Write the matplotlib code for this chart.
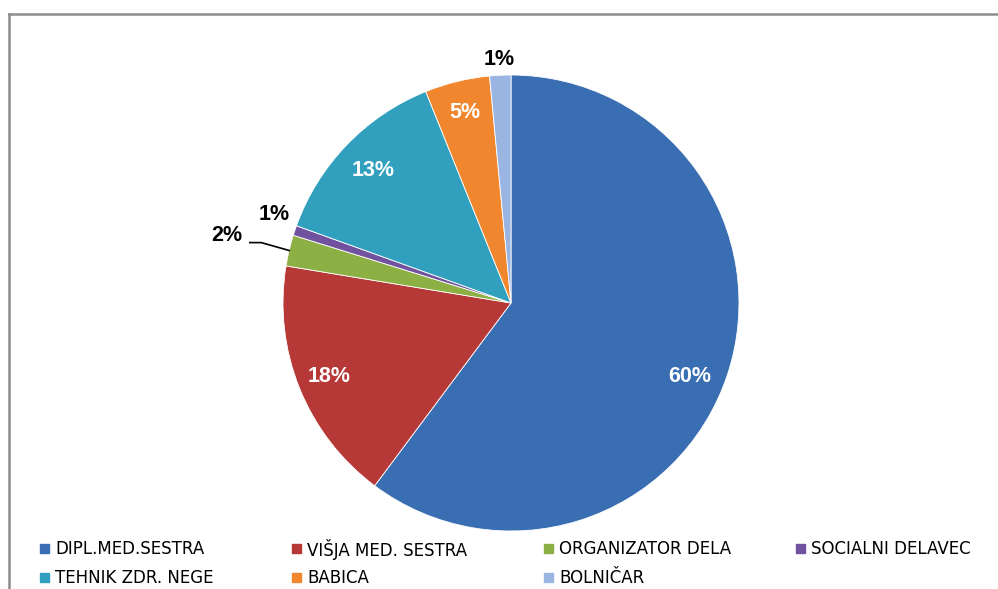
import numpy as np
import matplotlib.pyplot as plt
from matplotlib.lines import Line2D
from matplotlib.patches import Rectangle

# Category data (share of staff, %)
categories = ['DIPL.MED.SESTRA', 'VIŠJA MED. SESTRA', 'ORGANIZATOR DELA',
              'SOCIALNI DELAVEC', 'TEHNIK ZDR. NEGE', 'BABICA', 'BOLNIČAR']
values = [60.2, 17.4, 2.2, 0.7, 13.4, 4.6, 1.5]
labels = ['60%', '18%', '2%', '1%', '13%', '5%', '1%']
colors = ['#3A6EB2', '#B63937', '#8CB044', '#71529E', '#31A0BE', '#F0872F', '#9AB5E2']

W, H = 998, 589
fig = plt.figure(figsize=(W / 100, H / 100), dpi=100)
ax = fig.add_axes([0, 0, 1, 1])

cx, cy, R = 511, 303, 228  # pixel center / radius
wedges, _ = ax.pie(values, colors=colors, startangle=90, counterclock=False,
                   radius=1.0, wedgeprops=dict(edgecolor='white', linewidth=0.6))
ax.set_aspect('auto')
ax.set_xlim(-cx / R, (W - cx) / R)
ax.set_ylim(-(H - cy) / R, cy / R)
ax.axis('off')

# label radial distance, angle tweak and colour per slice
lab_r = [0.85, 0.86, 1.28, 1.11, 0.84, 0.86, 1.07]
lab_da = [-4.0, 0, 0, -2.0, 0, 0, 0]
lab_c = ['white', 'white', 'black', 'black', 'white', 'white', 'black']
for i, w in enumerate(wedges):
    mid = np.deg2rad((w.theta1 + w.theta2) / 2)
    lm = mid + np.deg2rad(lab_da[i])
    x, y = lab_r[i] * np.cos(lm), lab_r[i] * np.sin(lm)
    ax.text(x, y, labels[i], ha='center', va='center', color=lab_c[i],
            fontsize=15.5, fontweight='bold', family=['Liberation Sans', 'DejaVu Sans'])
    if i == 2:
        ex, ey = np.cos(mid), np.sin(mid)
        sx, sy = x + 0.10, y - 0.03
        ax.plot([sx, sx + 0.05, ex], [sy, sy, ey], color='black', lw=1.2)

# legend drawn manually in rows of four
for i, (name, col) in enumerate(zip(categories, colors)):
    c, r = i % 4, i // 4
    px = 40 + c * 252
    py = 549 + r * 29
    fig.patches.append(Rectangle((px / W, 1 - (py + 4) / H), 9 / W, 9 / H,
                                 transform=fig.transFigure, color=col))
    fig.text((px + 15) / W, 1 - py / H, name, ha='left', va='center', fontsize=12,
             family=['Liberation Sans Narrow', 'DejaVu Sans'])

# chart border (top and left visible)
fig.add_artist(Line2D([9 / W, 9 / W], [0, 1 - 14 / H], transform=fig.transFigure,
                      color='#8C8C8C', lw=1.8))
fig.add_artist(Line2D([9 / W, 1], [1 - 14 / H, 1 - 14 / H], transform=fig.transFigure,
                      color='#8C8C8C', lw=1.8))

fig.savefig('out.png', dpi=100)
